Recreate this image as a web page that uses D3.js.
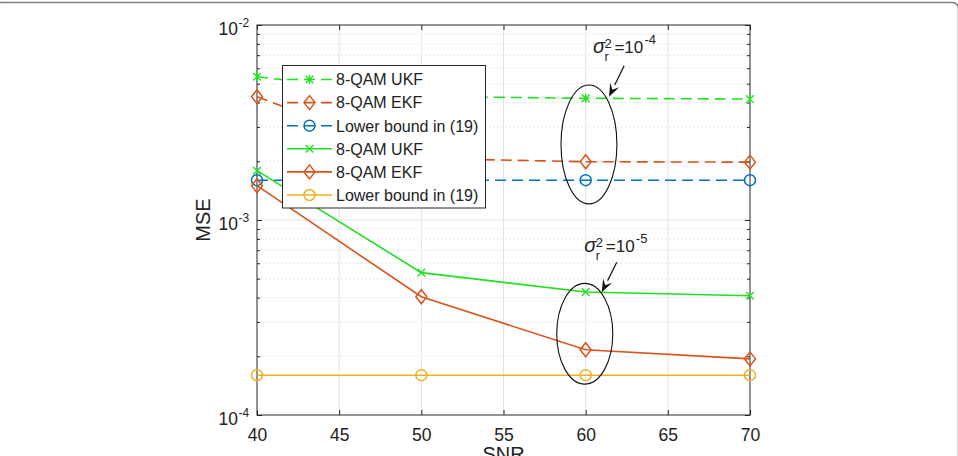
<!DOCTYPE html>
<html>
<head>
<meta charset="utf-8">
<script src="https://cdn.jsdelivr.net/npm/d3@7"></script>
<style>
  html, body { margin: 0; padding: 0; background: #fff; }
  svg { display: block; }
  text { font-family: "Liberation Sans", Arial, Helvetica, sans-serif; fill: #222; }
</style>
</head>
<body>
<svg id="chart" width="958" height="456"></svg>
<script>
// ---------------- data ----------------
const snr = [40, 50, 60, 70];
const ukfHigh = [5.43e-3, 4.30e-3, 4.21e-3, 4.17e-3];   // sigma_r^2 = 1e-4, dashed
const ekfHigh = [4.29e-3, 2.07e-3, 1.99e-3, 1.98e-3];
const lbHigh  = [1.6e-3, 1.6e-3, 1.6e-3, 1.6e-3];
const ukfLow  = [1.79e-3, 5.37e-4, 4.27e-4, 4.09e-4];   // sigma_r^2 = 1e-5, solid
const ekfLow  = [1.50e-3, 4.04e-4, 2.16e-4, 1.94e-4];
const lbLow   = [1.6e-4, 1.6e-4, 1.6e-4, 1.6e-4];
const xTicks = [40, 45, 50, 55, 60, 65, 70];
const yDecades = [1e-4, 1e-3, 1e-2];
const yExponents = ["-4", "-3", "-2"];
const legendLabels = ["8-QAM UKF", "8-QAM EKF", "Lower bound in (19)", "8-QAM UKF", "8-QAM EKF", "Lower bound in (19)"];
const xLabel = "SNR";
const yLabel = "MSE";
// annotations (data coordinates)
const ellipses = [
  { x0: 58.5, x1: 61.9, y0: 4.92e-3, y1: 1.21e-3 },
  { x0: 58.24, x1: 61.65, y0: 4.73e-4, y1: 1.44e-4 }
];
const arrows = [
  { x0: 62.34, y0: 6.18e-3, x1: 61.42, y1: 4.29e-3 },
  { x0: 61.89, y0: 6.07e-4, x1: 60.98, y1: 4.26e-4 }
];
const notes = [
  { x: 60.5, y: 7.18e-3, exp: "-4" },
  { x: 59.98, y: 6.88e-4, exp: "-5" }
];

// ---------------- styles ----------------
const GREEN = "#1fe21f", ORANGE = "#d95319", BLUE = "#0072bd", YELLOW = "#edb120";
const series = [
  { values: ukfHigh, color: GREEN,  marker: "star",    dash: "11,6" },
  { values: ekfHigh, color: ORANGE, marker: "diamond", dash: "11,6" },
  { values: lbHigh,  color: BLUE,   marker: "circle",  dash: "11,6" },
  { values: ukfLow,  color: GREEN,  marker: "x",       dash: null },
  { values: ekfLow,  color: ORANGE, marker: "diamond", dash: null },
  { values: lbLow,   color: YELLOW, marker: "circle",  dash: null }
];

const svg = d3.select("#chart");
const L = 257, R = 750, T = 25, B = 415;
const x = d3.scaleLinear().domain([40, 70]).range([L, R]);
const y = d3.scaleLog().domain([1e-4, 1e-2]).range([B, T]);

// frame line of the figure (top rounded border)
svg.append("rect").attr("x", -5).attr("y", 2.5).attr("width", 963.5).attr("height", 480)
  .attr("rx", 6).attr("fill", "none").attr("stroke", "#808080").attr("stroke-width", 1.6);

// grid
const g = svg.append("g");
const minor = [];
[1e-4, 1e-3].forEach(d => { for (let k = 2; k <= 9; k++) minor.push(d * k); });
g.selectAll(".ygm").data(minor).enter().append("line")
  .attr("x1", L).attr("x2", R).attr("y1", d => y(d)).attr("y2", d => y(d))
  .attr("stroke", "#cfcfcf").attr("stroke-width", 1).attr("stroke-dasharray", "1,3");
g.selectAll(".xg").data(xTicks.slice(1, -1)).enter().append("line")
  .attr("x1", d => x(d)).attr("x2", d => x(d)).attr("y1", T).attr("y2", B)
  .attr("stroke", "#e3e3e3").attr("stroke-width", 1);
g.selectAll(".yg").data([1e-3]).enter().append("line")
  .attr("x1", L).attr("x2", R).attr("y1", d => y(d)).attr("y2", d => y(d))
  .attr("stroke", "#e3e3e3").attr("stroke-width", 1);

// axes ticks (inward)
const axisColor = "#262626";
const xb = svg.append("g").attr("transform", `translate(0,${B})`)
  .call(d3.axisBottom(x).tickValues(xTicks).tickSizeInner(-5).tickSizeOuter(0).tickPadding(14).tickFormat(d3.format("d")));
const xt = svg.append("g").attr("transform", `translate(0,${T})`)
  .call(d3.axisTop(x).tickValues(xTicks).tickSizeInner(-5).tickSizeOuter(0).tickFormat(""));
const yl = svg.append("g").attr("transform", `translate(${L},0)`)
  .call(d3.axisLeft(y).tickValues(yDecades).tickSizeInner(-5).tickSizeOuter(0).tickFormat(""));
const ylm = svg.append("g").attr("transform", `translate(${L},0)`)
  .call(d3.axisLeft(y).tickValues(minor).tickSizeInner(-3).tickSizeOuter(0).tickFormat(""));
const yr = svg.append("g").attr("transform", `translate(${R},0)`)
  .call(d3.axisRight(y).tickValues(yDecades).tickSizeInner(-5).tickSizeOuter(0).tickFormat(""));
const yrm = svg.append("g").attr("transform", `translate(${R},0)`)
  .call(d3.axisRight(y).tickValues(minor).tickSizeInner(-3).tickSizeOuter(0).tickFormat(""));
[xb, xt, yl, ylm, yr, yrm].forEach(a => {
  a.select(".domain").remove();
  a.selectAll("line").attr("stroke", axisColor);
});
xb.selectAll("text").attr("font-size", "17.5px").attr("fill", "#222")
  .attr("font-family", '"Liberation Sans", Arial, sans-serif');

// box
svg.append("rect").attr("x", L).attr("y", T).attr("width", R - L).attr("height", B - T)
  .attr("fill", "none").attr("stroke", axisColor).attr("stroke-width", 1);

// y tick labels 10^k
yDecades.forEach((d, i) => {
  svg.append("text").attr("x", 238).attr("y", y(d) + 10).attr("text-anchor", "end")
    .attr("font-size", "17.5px").text("10");
  svg.append("text").attr("x", 238.5).attr("y", y(d) + 2).attr("text-anchor", "start")
    .attr("font-size", "12px").text(yExponents[i]);
});

// axis labels
svg.append("text").attr("x", x(55)).attr("y", 461).attr("text-anchor", "middle")
  .attr("font-size", "20px").text(xLabel);
svg.append("text").attr("transform", `translate(210,${(T + B) / 2}) rotate(-90)`)
  .attr("text-anchor", "middle").attr("font-size", "20px").text(yLabel);

// markers
function drawMarker(sel, type, cx, cy, color) {
  if (type === "circle") {
    sel.append("circle").attr("cx", cx).attr("cy", cy).attr("r", 5.5)
      .attr("fill", "none").attr("stroke", color).attr("stroke-width", 1.5);
  } else if (type === "diamond") {
    sel.append("path").attr("d", `M${cx},${cy - 7}L${cx + 5.5},${cy}L${cx},${cy + 7}L${cx - 5.5},${cy}Z`)
      .attr("fill", "none").attr("stroke", color).attr("stroke-width", 1.5);
  } else if (type === "x" || type === "star") {
    const s = 3.8;
    let d = `M${cx - s},${cy - s}L${cx + s},${cy + s}M${cx - s},${cy + s}L${cx + s},${cy - s}`;
    if (type === "star") d += `M${cx},${cy - s - 0.8}L${cx},${cy + s + 0.8}`;
    sel.append("path").attr("d", d).attr("fill", "none").attr("stroke", color).attr("stroke-width", 1.4);
  }
}

// series
const line = d3.line().x((d, i) => x(snr[i])).y(d => y(d));
const plot = svg.append("g");
series.forEach(s => {
  plot.append("path").datum(s.values).attr("d", line)
    .attr("fill", "none").attr("stroke", s.color).attr("stroke-width", 1.6)
    .attr("stroke-dasharray", s.dash);
  s.values.forEach((v, i) => drawMarker(plot, s.marker, x(snr[i]), y(v), s.color));
});

// annotations: ellipses, arrows, text
const ann = svg.append("g");
ellipses.forEach(e => {
  const cx = (x(e.x0) + x(e.x1)) / 2, cy = (y(e.y0) + y(e.y1)) / 2;
  ann.append("ellipse").attr("cx", cx).attr("cy", cy)
    .attr("rx", Math.abs(x(e.x1) - x(e.x0)) / 2).attr("ry", Math.abs(y(e.y1) - y(e.y0)) / 2)
    .attr("fill", "none").attr("stroke", "#111").attr("stroke-width", 1.1);
});
arrows.forEach(a => {
  const x0 = x(a.x0), y0 = y(a.y0), x1 = x(a.x1), y1 = y(a.y1);
  const ang = Math.atan2(y1 - y0, x1 - x0);
  const hl = 13, hw = 5;
  const bx = x1 - hl * Math.cos(ang), by = y1 - hl * Math.sin(ang);
  ann.append("line").attr("x1", x0).attr("y1", y0).attr("x2", bx).attr("y2", by)
    .attr("stroke", "#111").attr("stroke-width", 1.2);
  const px = -Math.sin(ang), py = Math.cos(ang);
  ann.append("path")
    .attr("d", `M${x1},${y1}L${bx + hw * px},${by + hw * py}L${x1 - 0.6 * hl * Math.cos(ang)},${y1 - 0.6 * hl * Math.sin(ang)}L${bx - hw * px},${by - hw * py}Z`)
    .attr("fill", "#111");
});
notes.forEach(n => {
  const nx = x(n.x), ny = y(n.y);
  ann.append("text").attr("x", nx - 1).attr("y", ny).attr("font-size", "20px")
    .attr("font-style", "italic").attr("font-family", '"DejaVu Serif", "Liberation Serif", serif').text("σ");
  ann.append("text").attr("x", nx + 10.5).attr("y", ny - 5).attr("font-size", "13px").text("2");
  ann.append("text").attr("x", nx + 10.5).attr("y", ny + 8).attr("font-size", "12.5px").text("r");
  ann.append("text").attr("x", nx + 20.5).attr("y", ny).attr("font-size", "17px").text("=10");
  ann.append("text").attr("x", nx + 50.5).attr("y", ny - 9).attr("font-size", "13px").text(n.exp);
});

// legend
const lg = svg.append("g");
const LX = 282.5, LY = 65.5, LW = 203, LH = 142.5;
lg.append("rect").attr("x", LX).attr("y", LY).attr("width", LW).attr("height", LH)
  .attr("fill", "#fff").attr("stroke", axisColor).attr("stroke-width", 1);
series.forEach((s, i) => {
  const ry = 79.5 + i * 23.1;
  lg.append("line").attr("x1", 287).attr("x2", 332).attr("y1", ry).attr("y2", ry)
    .attr("stroke", s.color).attr("stroke-width", 1.6).attr("stroke-dasharray", s.dash);
  drawMarker(lg, s.marker, 309.5, ry, s.color);
  lg.append("text").attr("x", 336).attr("y", ry + 5.8).attr("font-size", "16px").text(legendLabels[i]);
});
</script>
</body>
</html>
